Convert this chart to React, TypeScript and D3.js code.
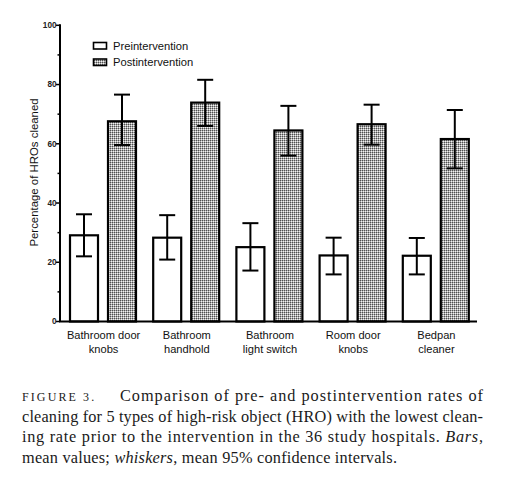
import React from "react";
import * as d3 from "d3";

const categories: string[][] = [
  ["Bathroom door", "knobs"],
  ["Bathroom", "handhold"],
  ["Bathroom", "light switch"],
  ["Room door", "knobs"],
  ["Bedpan", "cleaner"],
];
const preMean = [29.1, 28.3, 25.1, 22.3, 22.2];
const preLow = [22.0, 20.9, 17.2, 15.9, 15.9];
const preHigh = [36.2, 35.9, 33.2, 28.3, 28.2];
const postMean = [67.6, 73.9, 64.5, 66.6, 61.6];
const postLow = [59.6, 66.0, 56.0, 59.7, 51.7];
const postHigh = [76.6, 81.6, 72.8, 73.2, 71.4];
const seriesNames = ["Preintervention", "Postintervention"];
const majorTicks = [0, 20, 40, 60, 80, 100];
const minorTicks = [10, 30, 50, 70, 90];
const yTitle = "Percentage of HROs cleaned";

const W = 509;
const H = 479;
const SANS = "Arial, 'Liberation Sans', sans-serif";
const SERIF = "'Liberation Serif', 'Times New Roman', serif";

export default function App() {
  const keys = categories.map((c) => c.join(" "));
  const x = d3.scaleBand<string>().domain(keys).range([61, 477]).padding(0);
  const inner = d3
    .scaleBand<string>()
    .domain(["pre", "post"])
    .range([8, 76])
    .paddingInner(0.2105)
    .paddingOuter(0);
  const y = d3.scaleLinear().domain([0, 100]).range([321.5, 25.3]);
  const axisX = 60;

  const series = [
    { key: "pre", mean: preMean, low: preLow, high: preHigh, fill: "#ffffff" },
    { key: "post", mean: postMean, low: postLow, high: postHigh, fill: "url(#checker)" },
  ];

  return (
    <svg
      width={W}
      height={H}
      style={{ position: "absolute", left: 0, top: 0, background: "#fff" }}
    >
      <defs>
        <pattern id="checker" width="2" height="2" patternUnits="userSpaceOnUse">
          <rect width="2" height="2" fill="#ababab" />
          <rect x="0" y="0" width="1" height="1" fill="#505050" />
          <rect x="1" y="1" width="1" height="1" fill="#f2f2f2" />
        </pattern>
      </defs>
      <rect width={W} height={H} fill="#fff" />

      {/* bars */}
      {series.map((s) => (
        <g key={s.key}>
          {keys.map((k, i) => {
            const x0 = (x(k) as number) + (inner(s.key) as number);
            const bw = inner.bandwidth();
            const cx = x0 + bw / 2;
            return (
              <g key={k}>
                <rect
                  x={x0 + 1}
                  y={y(s.mean[i])}
                  width={bw - 2}
                  height={y(0) - y(s.mean[i])}
                  fill={s.fill}
                  stroke="#000"
                  strokeWidth={2.2}
                />
                <line x1={cx} x2={cx} y1={y(s.low[i])} y2={y(s.high[i])} stroke="#000" strokeWidth={2} />
                <line x1={cx - 8} x2={cx + 8} y1={y(s.high[i])} y2={y(s.high[i])} stroke="#000" strokeWidth={2} />
                <line x1={cx - 8} x2={cx + 8} y1={y(s.low[i])} y2={y(s.low[i])} stroke="#000" strokeWidth={2} />
              </g>
            );
          })}
        </g>
      ))}

      {/* axes */}
      <line x1={axisX} x2={axisX} y1={y(100) - 1} y2={y(0)} stroke="#000" strokeWidth={2} />
      <line x1={axisX - 1} x2={477} y1={y(0)} y2={y(0)} stroke="#000" strokeWidth={2} />
      {majorTicks.map((t) => (
        <g key={t}>
          <line x1={axisX - 4} x2={axisX} y1={y(t)} y2={y(t)} stroke="#000" strokeWidth={1.5} />
          <text
            x={axisX - 3.5}
            y={y(t)}
            dy="0.35em"
            textAnchor="end"
            fontFamily={SANS}
            fontSize={8.2}
            fontWeight="bold"
            fill="#222"
          >
            {t}
          </text>
        </g>
      ))}
      {minorTicks.map((t) => (
        <line key={t} x1={axisX - 2.5} x2={axisX} y1={y(t)} y2={y(t)} stroke="#000" strokeWidth={1.5} />
      ))}

      {/* y title */}
      <text
        transform={`translate(38,172.5) rotate(-90)`}
        textAnchor="middle"
        fontFamily={SANS}
        fontSize={11.4}
        fill="#111"
      >
        {yTitle}
      </text>

      {/* category labels */}
      {keys.map((k, i) => {
        const cx = (x(k) as number) + x.bandwidth() / 2;
        return (
          <text key={k} textAnchor="middle" fontFamily={SANS} fontSize={11.1} fill="#111">
            <tspan x={cx + 1} y={338.5}>{categories[i][0]}</tspan>
            <tspan x={cx + 1} y={353}>{categories[i][1]}</tspan>
          </text>
        );
      })}

      {/* legend */}
      <rect x={93.5} y={42.5} width={13} height={6.5} fill="#fff" stroke="#000" strokeWidth={1.6} />
      <text x={113} y={49.5} fontFamily={SANS} fontSize={11.2} fill="#111">
        {seriesNames[0]}
      </text>
      <rect x={93.5} y={59} width={13} height={6.5} fill="url(#checker)" stroke="#000" strokeWidth={1.6} />
      <text x={113} y={66} fontFamily={SANS} fontSize={11.2} fill="#111">
        {seriesNames[1]}
      </text>

      {/* caption */}
      <text x={22} y={400.5} fontFamily={SERIF} fontSize={12} letterSpacing={2.1} fill="#1a1a1a">
        FIGURE 3.
      </text>
      <text
        x={120}
        y={400.5}
        fontFamily={SERIF}
        fontSize={16.3}
        fill="#1a1a1a"
        textLength={363}
        lengthAdjust="spacing"
      >
        Comparison of pre- and postintervention rates of
      </text>
      <text
        x={22}
        y={421.5}
        fontFamily={SERIF}
        fontSize={16.3}
        fill="#1a1a1a"
        textLength={461}
        lengthAdjust="spacing"
      >
        cleaning for 5 types of high-risk object (HRO) with the lowest clean-
      </text>
      <text
        x={22}
        y={442}
        fontFamily={SERIF}
        fontSize={16.3}
        fill="#1a1a1a"
        textLength={461}
        lengthAdjust="spacing"
      >
        ing rate prior to the intervention in the 36 study hospitals. <tspan fontStyle="italic">Bars</tspan>,
      </text>
      <text
        x={22}
        y={462.5}
        fontFamily={SERIF}
        fontSize={16.3}
        fill="#1a1a1a"
        textLength={375}
        lengthAdjust="spacing"
      >
        mean values; <tspan fontStyle="italic">whiskers</tspan>, mean 95% confidence intervals.
      </text>
    </svg>
  );
}
